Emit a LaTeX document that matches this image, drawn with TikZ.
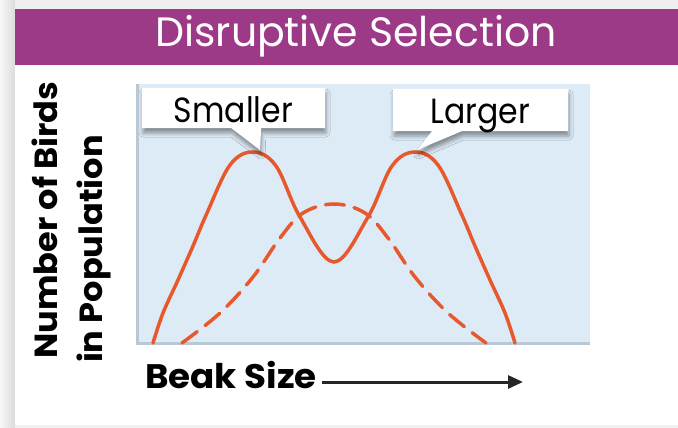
\documentclass[tikz,border=0pt]{standalone}
\usepackage{fontspec}
\newfontfamily\headfont[FakeStretch=0.9]{Poppins}
\newfontfamily\titlefont{Poppins}
\newfontfamily\labelfont[FakeStretch=1.05]{Poppins}
\usetikzlibrary{shapes.callouts,shadows.blur,arrows.meta,positioning}

\definecolor{headpurple}{RGB}{156,58,135}
\definecolor{plotblue}{RGB}{221,235,247}
\definecolor{curvered}{RGB}{232,88,45}
\definecolor{axisgray}{RGB}{186,200,214}

\tikzstyle{tag} = [rectangle callout, fill=white, inner sep=0pt,
    font=\headfont\fontsize{35}{35}\selectfont,
    text height=30pt, text depth=2pt, minimum height=40pt,
    callout pointer width=30pt,
    blur shadow={shadow xshift=1pt, shadow yshift=-5pt, shadow blur radius=4pt}]
\tikzstyle{axislabel} = [inner sep=0pt, font=\labelfont\bfseries\fontsize{32}{32}\selectfont]
\tikzstyle{curve} = [curvered, line width=3.5pt, line cap=round]

\begin{document}
\begin{tikzpicture}[x=1pt, y=-1pt]
  \useasboundingbox (0,0) rectangle (678,428);
  % card and title bar
  \fill[gray!12] (0,0) rectangle (678,428);
  \shade[left color=gray!6, right color=gray!28] (0,0) rectangle (15,428);
  \fill[white] (15,9) rectangle (678,425);
  \fill[headpurple] (15,9) rectangle (678,65);
  \node[anchor=base, text=white, inner sep=0pt,
    font=\titlefont\fontsize{41}{41}\selectfont] (title) at (356,47) {Disruptive Selection};

  % plot area
  \fill[plotblue] (137,84) rectangle (590,343);
  \draw[axisgray, line width=3pt] (137,84) -- (137,343) -- (590,343);

  % original population (dashed) and after selection (solid)
  \draw[curve, dash pattern=on 19pt off 10pt] plot[smooth, tension=0.6] coordinates
    {(182,343) (220,313) (253,277) (280,238) (303,213) (334,204) (365,213)
     (388,238) (415,277) (448,313) (486,343)};
  \draw[curve] plot[smooth, tension=0.6] coordinates
    {(153,343) (163,313) (178,280) (193,246) (207,213) (230,165) (253,152) (276,166) (300,217)
     (334,262) (368,217) (392,166) (415,152) (438,165) (461,213) (475,246) (490,280) (505,313) (515,343)};

  % labels on the two peaks
  \coordinate (peakS) at (260,150);
  \coordinate (peakL) at (417,150);
  \node[tag, minimum width=183pt, callout absolute pointer={(peakS)}] (small) at (233.5,108) {Smaller};
  \node[tag, minimum width=175pt, minimum height=42pt, callout absolute pointer={(peakL)}] (large) at (480.5,110) {Larger};

  % axes
  \node[axislabel, anchor=base, rotate=90] (ylabA) at (57,220) {Number of Birds};
  \node[axislabel, anchor=base, rotate=90] (ylabB) at (102,249) {in Population};
  \node[axislabel, anchor=base west, font=\labelfont\bfseries\fontsize{34}{34}\selectfont] (xlab) at (145,388) {Beak Size};
  \coordinate (xend) at (523,382);
  \draw[-{Triangle[length=15pt,width=13pt]}, line width=3pt, black!85]
    ([xshift=5pt]xlab.east |- xend) -- (xend);
\end{tikzpicture}
\end{document}
